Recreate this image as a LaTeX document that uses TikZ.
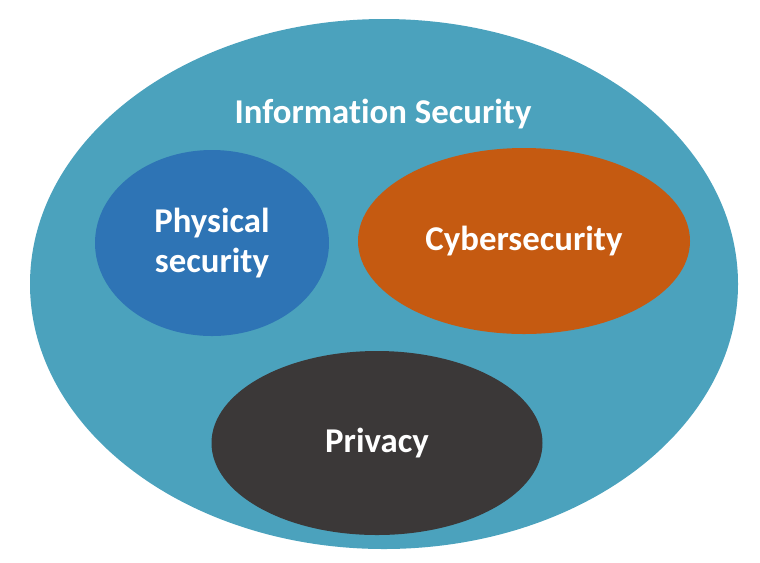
\documentclass[tikz,border=0pt]{standalone}
\usepackage{fontspec}
\setmainfont{Carlito}[Ligatures=NoCommon]
\usetikzlibrary{shapes.geometric}

\definecolor{infoteal}{RGB}{75,162,189}
\definecolor{physblue}{RGB}{46,116,181}
\definecolor{cyberorange}{RGB}{197,90,17}
\definecolor{privdark}{RGB}{59,56,56}

\tikzset{
  blob/.style={ellipse, draw=none, text=white, align=center,
    font=\fontsize{19.8}{23.2}\selectfont\bfseries, inner sep=0pt},
}

\begin{document}
\begin{tikzpicture}[x=0.02cm, y=-0.02cm]
  % canvas
  \useasboundingbox (0,0) rectangle (760,562);
  % outer set
  \node[blob, fill=infoteal, minimum width=708*0.02cm, minimum height=530*0.02cm]
    (info) at (384,284) {};
  \node[text=white, font=\fontsize{19.8}{23.2}\selectfont\bfseries]
    (infolabel) at (383,114) {Information Security};
  % inner sets
  \node[blob, fill=physblue, minimum width=234*0.02cm, minimum height=186*0.02cm]
    (phys) at (212,243) {Physical\\security};
  \node[blob, fill=cyberorange, minimum width=332*0.02cm, minimum height=186*0.02cm]
    (cyber) at (524,241) {Cybersecurity};
  \node[blob, fill=privdark, minimum width=331*0.02cm, minimum height=184*0.02cm]
    (priv) at (377,443) {Privacy};
\end{tikzpicture}
\end{document}
